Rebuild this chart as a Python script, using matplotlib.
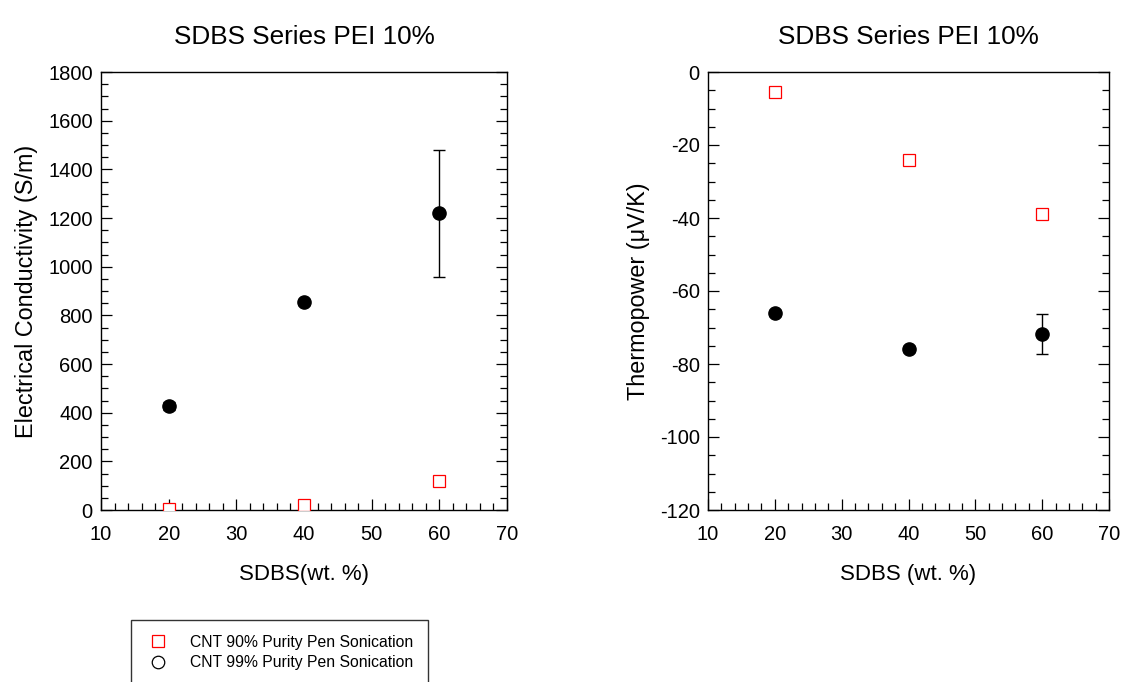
import matplotlib
matplotlib.use('Agg')
import matplotlib.pyplot as plt
from matplotlib.lines import Line2D
from matplotlib.ticker import MultipleLocator

plt.rcParams['font.family'] = ['Liberation Sans', 'DejaVu Sans']
plt.rcParams['axes.unicode_minus'] = False

# SDBS content (wt. %)
sdbs = [20, 40, 60]

# electrical conductivity (S/m)
cond_90 = [4, 22, 119]
cond_90_err = [0, 8, 6]
cond_99 = [428, 854, 1219]
cond_99_err = [15, 10, 260]

# thermopower (uV/K)
tp_90 = [-5.4, -24.0, -39.0]
tp_90_err = [0, 0, 0]
tp_99 = [-66, -76, -71.8]
tp_99_err = [0.8, 0.8, 5.5]

labels = ['CNT 90% Purity Pen Sonication', 'CNT 99% Purity Pen Sonication']
title = 'SDBS Series PEI 10%'

fig = plt.figure(figsize=(11.29, 6.82), dpi=100)
W, H = 1129, 682
ax1 = fig.add_axes([101 / W, 1 - 510 / H, 406 / W, 438 / H])
ax2 = fig.add_axes([708 / W, 1 - 510 / H, 401 / W, 438 / H])


def style(ax, ymin, ymax, ymaj, ymin_step):
    ax.set_xlim(10, 70)
    ax.set_ylim(ymin, ymax)
    ax.xaxis.set_major_locator(MultipleLocator(10))
    ax.xaxis.set_minor_locator(MultipleLocator(2))
    ax.yaxis.set_major_locator(MultipleLocator(ymaj))
    ax.yaxis.set_minor_locator(MultipleLocator(ymin_step))
    ax.tick_params(which='both', direction='in', top=False, right=True,
                   width=0.9, labelsize=14.5)
    ax.tick_params(axis='y', which='both', pad=6)
    ax.tick_params(axis='x', which='both', pad=11)
    ax.tick_params(which='major', length=8)
    ax.tick_params(which='minor', length=5)
    for s in ax.spines.values():
        s.set_linewidth(1.0)


def draw(ax, y90, e90, y99, e99):
    ax.errorbar(sdbs, y90, yerr=e90, fmt='s', ms=8, mfc='white', mec='red',
                mew=0.9, ecolor='#ff8080', elinewidth=0.8, capsize=4, capthick=0.8,
                zorder=3)
    ax.errorbar(sdbs, y99, yerr=e99, fmt='o', ms=9.5, mfc='black', mec='black',
                ecolor='black', elinewidth=1.0, capsize=4.5, capthick=1.0,
                zorder=3)


draw(ax1, cond_90, cond_90_err, cond_99, cond_99_err)
style(ax1, 0, 1800, 200, 50)
ax1.set_xlabel('SDBS(wt. %)', fontsize=16, labelpad=14)
ax1.set_ylabel('Electrical Conductivity (S/m)', fontsize=16.8, labelpad=7)
ax1.set_title(title, fontsize=18.8, pad=20)

draw(ax2, tp_90, tp_90_err, tp_99, tp_99_err)
style(ax2, -120, 0, 20, 5)
ax2.set_xlabel('SDBS (wt. %)', fontsize=16, labelpad=14)
ax2.set_ylabel('Thermopower (\u03bcV/K)', fontsize=16.8, labelpad=7)
ax2.set_title(title, fontsize=18.8, pad=20)

handles = [
    Line2D([], [], ls='none', marker='s', ms=8, mfc='white', mec='red', mew=0.9),
    Line2D([], [], ls='none', marker='o', ms=9, mfc='white', mec='black', mew=0.9),
]
leg = fig.legend(handles, labels, loc='upper left',
                 bbox_to_anchor=(131 / W, 1 - 620 / H), fontsize=11.3,
                 frameon=True, fancybox=False, borderpad=0.95,
                 handletextpad=1.3, labelspacing=0.35, borderaxespad=0,
                 handlelength=1.5)
leg.get_frame().set_edgecolor('black')
leg.get_frame().set_linewidth(1.0)

fig.savefig('out.png', dpi=100)
